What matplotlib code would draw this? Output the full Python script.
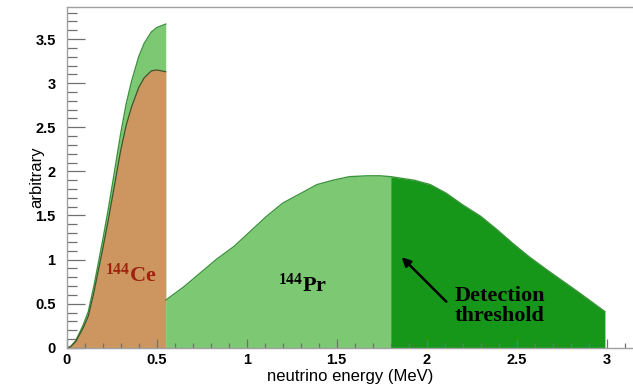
import numpy as np
import matplotlib
matplotlib.use("Agg")
import matplotlib.pyplot as plt
from matplotlib.ticker import MultipleLocator

plt.rcParams["mathtext.fontset"] = "custom"
plt.rcParams["mathtext.rm"] = "Liberation Serif:bold"
plt.rcParams["mathtext.bf"] = "Liberation Serif:bold"
plt.rcParams["mathtext.it"] = "Liberation Serif:bold"

# 144Ce neutrino spectrum and the 144Pr contribution below the Ce endpoint
e_low = [0, 0.02, 0.05, 0.09, 0.12, 0.15, 0.17, 0.20, 0.23, 0.26, 0.30,
         0.33, 0.36, 0.40, 0.43, 0.47, 0.50, 0.55]
ce_spec = [0, 0.01, 0.07, 0.22, 0.36, 0.62, 0.82, 1.12, 1.44, 1.78, 2.24,
           2.52, 2.73, 2.95, 3.06, 3.14, 3.15, 3.13]
pr_low = [0, 0.0, 0.01, 0.03, 0.05, 0.07, 0.08, 0.10, 0.12, 0.15, 0.19,
          0.24, 0.29, 0.35, 0.39, 0.44, 0.48, 0.54]

# 144Pr spectrum above the Ce endpoint
e_pr = [0.55, 0.65, 0.74, 0.83, 0.93, 1.02, 1.11, 1.20, 1.30, 1.39, 1.48,
        1.57, 1.67, 1.74, 1.80, 1.93, 2.02, 2.11, 2.20, 2.30, 2.39, 2.48,
        2.57, 2.67, 2.76, 2.85, 2.99]
pr_spec = [0.54, 0.69, 0.845, 1.00, 1.15, 1.32, 1.49, 1.64, 1.75, 1.85, 1.90,
           1.94, 1.95, 1.95, 1.94, 1.90, 1.85, 1.75, 1.62, 1.49, 1.34, 1.18,
           1.03, 0.88, 0.75, 0.62, 0.41]

threshold = 1.8

c_ce = "#CD9660"
c_light = "#7DC873"
c_dark = "#17971A"
c_edge = "#3A943A"

fig = plt.figure(figsize=(6.33, 3.86), dpi=100)
ax = fig.add_axes([0.1054, 0.099, 0.8946, 0.882])

e_low_a = np.array(e_low)
ce_a = np.array(ce_spec)
total_low = ce_a + np.array(pr_low)

# stacked low-energy part
ax.fill_between(e_low_a, 0, total_low, color=c_light, lw=0)
ax.fill_between(e_low_a, 0, ce_a, color=c_ce, lw=0)
ax.plot(e_low_a, total_low, color=c_edge, lw=1.0)
ax.plot(e_low_a, ce_a, color="#4a4f2c", lw=0.9)

# Pr part, split at the detection threshold
e_pr_a = np.array(e_pr)
pr_a = np.array(pr_spec)
below = e_pr_a <= threshold
above = e_pr_a >= threshold
ax.fill_between(e_pr_a[below], 0, pr_a[below], color=c_light, lw=0)
ax.fill_between(e_pr_a[above], 0, pr_a[above], color=c_dark, lw=0)
ax.plot(e_pr_a, pr_a, color=c_edge, lw=1.0)

ax.set_xlim(0, 3.146)
ax.set_ylim(0, 3.86)

ax.xaxis.set_major_locator(MultipleLocator(0.5))
ax.xaxis.set_minor_locator(MultipleLocator(0.1))
ax.yaxis.set_major_locator(MultipleLocator(0.5))
ax.yaxis.set_minor_locator(MultipleLocator(0.1))
ax.xaxis.set_major_formatter(plt.FuncFormatter(lambda v, p: f"{v:g}"))
ax.yaxis.set_major_formatter(plt.FuncFormatter(lambda v, p: f"{v:g}"))

ax.tick_params(axis="both", which="both", direction="in", color="#707070",
               width=0.9)
ax.tick_params(axis="y", which="major", length=13, pad=8)
ax.tick_params(axis="y", which="minor", length=7)
ax.tick_params(axis="x", which="major", length=6.5, pad=4)
ax.tick_params(axis="x", which="minor", length=3.6)
ax.tick_params(top=False, right=False, which="both")

for lab in ax.get_xticklabels() + ax.get_yticklabels():
    lab.set_fontfamily("Liberation Sans")
    lab.set_fontweight("bold")
    lab.set_fontsize(10.5)

for side in ("left", "top", "bottom"):
    ax.spines[side].set_color("#a0a0a0")
    ax.spines[side].set_linewidth(1.0)
ax.spines["right"].set_visible(False)

ax.set_xlabel("neutrino energy (MeV)", fontfamily="Liberation Sans",
              fontsize=12, labelpad=1)
ax.set_ylabel("arbitrary", fontfamily="Liberation Sans", fontsize=12,
              va="center")
ax.yaxis.set_label_coords(-0.0525, 0.5)

serif = "Liberation Serif"
ax.text(0.213, 0.75, r"$^{144}$Ce", color="#A0230F", fontsize=16,
        fontfamily=serif, fontweight="bold", ha="left", va="baseline")
ax.text(1.172, 0.64, r"$^{144}$Pr", color="black", fontsize=16,
        fontfamily=serif, fontweight="bold", ha="left", va="baseline")
ax.text(2.405, 0.47, "Detection\nthreshold", color="black", fontsize=16,
        fontfamily=serif, fontweight="bold", ha="center", va="center",
        linespacing=1.0)
ax.annotate("", xy=(1.85, 1.05), xytext=(2.12, 0.50),
            arrowprops=dict(arrowstyle="-|>", color="black", lw=1.8,
                            mutation_scale=13))

fig.savefig("out.png", dpi=100)
